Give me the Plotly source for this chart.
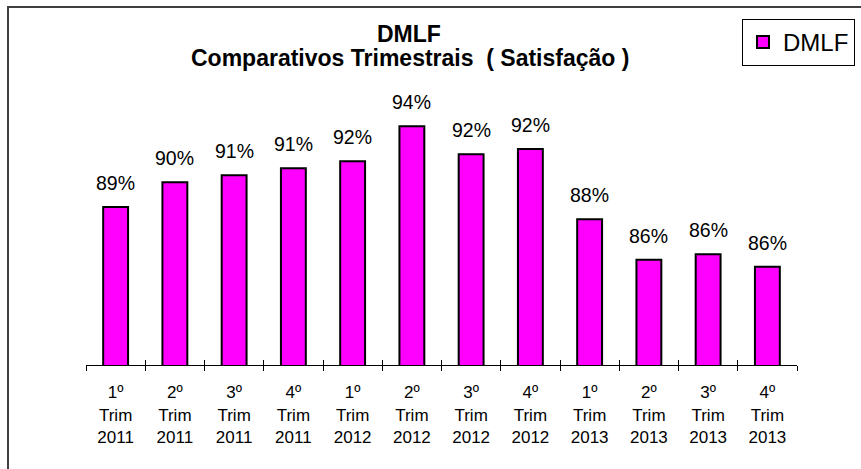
import plotly.graph_objects as go

# ---- data ----
quarters = ["1º", "2º", "3º", "4º", "1º", "2º", "3º", "4º", "1º", "2º", "3º", "4º"]
years = ["2011", "2011", "2011", "2011", "2012", "2012", "2012", "2012",
         "2013", "2013", "2013", "2013"]
categories = [f"{q}<br>Trim<br>{y}" for q, y in zip(quarters, years)]
satisfacao = [0.890, 0.904, 0.908, 0.912, 0.916, 0.936, 0.920, 0.923,
              0.883, 0.860, 0.863, 0.856]
series_name = "DMLF"
title_line1 = "DMLF"
title_line2 = "Comparativos Trimestrais  ( Satisfação )"

# ---- layout constants (pixels) ----
W, H = 861, 469
ML, MR, MT, MB = 86, 64, 84, 104
PW, PH = W - ML - MR, H - MT - MB
FONT = "Arial, Liberation Sans, sans-serif"


def px_x(px):
    return (px - ML) / PW


def px_y(py):
    return (H - MB - py) / PH


fig = go.Figure()
fig.add_trace(go.Bar(
    x=categories, y=satisfacao, name=series_name,
    marker=dict(color="#FF00FF", line=dict(color="black", width=2)),
    width=0.42, showlegend=True, hoverinfo="skip",
))
# helper trace for the upward half of the crossing tick marks
fig.add_trace(go.Scatter(x=[], y=[], xaxis="x2", yaxis="y",
                         showlegend=False, hoverinfo="skip"))

n = len(categories)
boundaries = [i - 0.5 for i in range(n + 1)]

annotations = []
for c, v in zip(categories, satisfacao):
    annotations.append(dict(
        x=c, y=v, xref="x", yref="y", text=f"{v:.0%}", showarrow=False,
        yanchor="bottom", yshift=11,
        font=dict(family=FONT, size=19.5, color="black"),
    ))
annotations.append(dict(
    x=px_x(409), y=px_y(34), xref="paper", yref="paper", text=f"<b>{title_line1}</b>",
    showarrow=False, xanchor="center", yanchor="middle",
    font=dict(family=FONT, size=23, color="black"),
))
annotations.append(dict(
    x=px_x(409.5), y=px_y(58), xref="paper", yref="paper", text=f"<b>{title_line2}</b>",
    showarrow=False, xanchor="center", yanchor="middle",
    font=dict(family=FONT, size=23, color="black"),
))

fig.update_layout(
    width=W, height=H,
    margin=dict(l=ML, r=MR, t=MT, b=MB, pad=0, autoexpand=False),
    paper_bgcolor="white", plot_bgcolor="white",
    font=dict(family=FONT, color="black"),
    xaxis=dict(
        type="category", range=[-0.5, n - 0.5], showline=True, linecolor="black",
        linewidth=1, ticks="outside", ticklen=5, tickcolor="black", tickwidth=1,
        tickson="boundaries", showgrid=False, zeroline=False,
        tickfont=dict(family=FONT, size=17, color="black"),
        ticklabelstandoff=12,
        fixedrange=True,
    ),
    xaxis2=dict(
        overlaying="x", anchor="y", side="bottom", range=[-0.5, n - 0.5],
        tickmode="array", tickvals=boundaries, ticks="inside", ticklen=5,
        tickcolor="black", tickwidth=1, showticklabels=False, showgrid=False,
        zeroline=False, showline=False, fixedrange=True,
    ),
    yaxis=dict(range=[0.80, 0.96], showgrid=False, showline=False, zeroline=False,
               showticklabels=False, ticks="", fixedrange=True),
    showlegend=True,
    legend=dict(
        x=px_x(742), y=px_y(19), xanchor="left", yanchor="top",
        bordercolor="black", borderwidth=1, bgcolor="white",
        font=dict(family=FONT, size=24, color="black"),
        itemwidth=30, tracegroupgap=0,
    ),
    annotations=annotations,
    shapes=[dict(
        type="rect", xref="paper", yref="paper",
        x0=px_x(8), x1=px_x(W + 20), y0=px_y(H + 20), y1=px_y(7),
        line=dict(color="#404040", width=2), fillcolor="rgba(0,0,0,0)", layer="below",
    )],
)

fig.write_html(
    "out.html",
    config={"displayModeBar": False, "staticPlot": True},
    post_script="document.body.style.margin='0';document.body.style.padding='0';"
                "document.body.style.overflow='hidden';",
)
